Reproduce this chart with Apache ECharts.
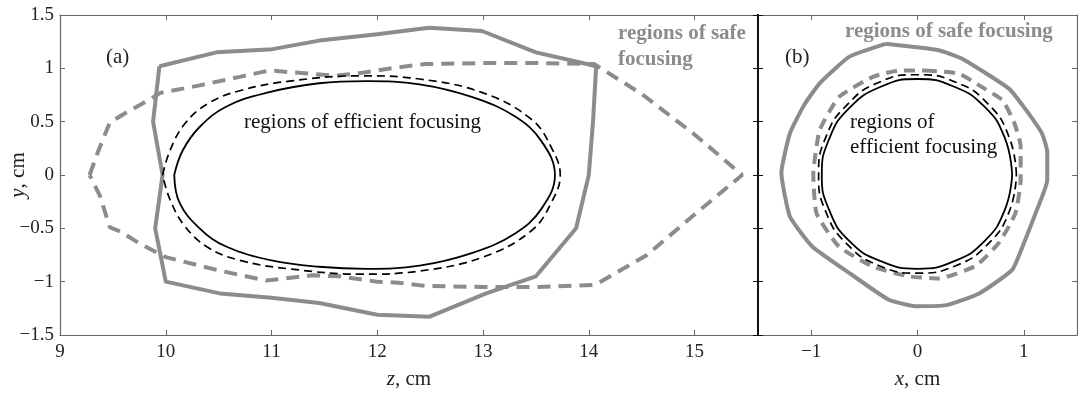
<!DOCTYPE html>
<html>
<head>
<meta charset="utf-8">
<script src="https://cdn.jsdelivr.net/npm/echarts@6/dist/echarts.min.js"></script>
<style>
html,body{margin:0;padding:0;background:#fff;}
#chart{width:1078px;height:401px;}
</style>
</head>
<body>
<div id="chart"></div>
<script>
// ---- tick values ----
const zTicks = [9, 10, 11, 12, 13, 14, 15];
const xTicks = [-1, 0, 1];
const yTicks = [-1.5, -1, -0.5, 0, 0.5, 1, 1.5];

// ---- panel (a): z-y plane ----
const safeSolidZ = [[9.94,1.02],[10.48,1.15],[11.01,1.18],[11.45,1.26],[12.0,1.32],[12.49,1.38],[12.99,1.35],[13.5,1.15],[13.9,1.06],[14.07,1.02],[14.04,0.5],[14.0,0],[13.88,-0.5],[13.5,-0.95],[13.03,-1.11],[12.49,-1.33],[12.0,-1.31],[11.45,-1.2],[11.0,-1.15],[10.51,-1.11],[10.0,-1.0],[9.9,-0.5],[9.97,0],[9.88,0.5],[9.94,1.02]];
const safeDashZ = [[9.28,0],[9.36,0.22],[9.47,0.49],[9.6,0.57],[9.78,0.67],[9.95,0.77],[10.32,0.84],[10.7,0.92],[10.98,0.98],[11.36,0.95],[11.6,0.93],[11.8,0.95],[12.0,0.98],[12.2,1.01],[12.45,1.04],[13.0,1.05],[13.5,1.05],[14.05,1.04],[14.5,0.76],[15.0,0.38],[15.45,0],[15.0,-0.37],[14.55,-0.75],[14.06,-1.03],[13.5,-1.05],[13.0,-1.05],[12.45,-1.04],[12.2,-1.01],[12.0,-1.0],[11.64,-0.95],[11.39,-0.94],[10.95,-0.99],[10.48,-0.89],[10.0,-0.77],[9.75,-0.64],[9.57,-0.53],[9.47,-0.49],[9.38,-0.2],[9.28,0]];
const effSolidZ = [[10.08,0],[10.16,0.23],[10.32,0.45],[10.57,0.64],[10.95,0.77],[11.45,0.86],[11.9,0.88],[12.4,0.85],[12.9,0.73],[13.3,0.55],[13.55,0.32],[13.68,0],[13.55,-0.32],[13.3,-0.55],[12.9,-0.73],[12.4,-0.85],[11.9,-0.88],[11.45,-0.86],[11.0,-0.8],[10.57,-0.67],[10.32,-0.5],[10.13,-0.26],[10.08,0]];
const effDashZ = [[9.97,0],[10.04,0.23],[10.18,0.48],[10.4,0.67],[10.7,0.79],[11.17,0.88],[11.85,0.93],[12.4,0.9],[13.0,0.77],[13.46,0.52],[13.65,0.25],[13.73,0],[13.65,-0.25],[13.46,-0.52],[13.0,-0.77],[12.4,-0.9],[11.85,-0.93],[11.17,-0.88],[10.7,-0.8],[10.4,-0.68],[10.18,-0.48],[10.04,-0.23],[9.97,0]];

// ---- panel (b): x-y plane ----
const safeSolidX = [[-0.30,1.23],[0.2,1.17],[0.42,1.09],[0.86,0.81],[1.02,0.61],[1.17,0.39],[1.22,0.22],[1.22,-0.05],[1.11,-0.36],[1.0,-0.64],[0.89,-0.89],[0.58,-1.11],[0.27,-1.22],[-0.02,-1.23],[-0.27,-1.17],[-0.64,-0.92],[-0.99,-0.67],[-1.2,-0.39],[-1.28,0.02],[-1.2,0.39],[-1.07,0.65],[-0.92,0.86],[-0.64,1.11],[-0.30,1.23]];
const safeDashX = [[0.08,0.98],[0.39,0.95],[0.58,0.84],[0.8,0.7],[0.91,0.49],[0.97,0.27],[0.97,-0.05],[0.92,-0.36],[0.77,-0.63],[0.55,-0.85],[0.2,-0.97],[-0.08,-0.95],[-0.42,-0.86],[-0.74,-0.67],[-0.95,-0.36],[-0.98,0.01],[-0.92,0.42],[-0.74,0.73],[-0.42,0.92],[-0.17,0.98],[0.08,0.98]];
const effSolidX = [[0.89,0],[0.82,0.35],[0.63,0.64],[0.34,0.83],[0,0.9],[-0.34,0.83],[-0.64,0.63],[-0.83,0.34],[-0.9,0],[-0.83,-0.33],[-0.64,-0.62],[-0.34,-0.81],[0,-0.88],[0.34,-0.81],[0.63,-0.62],[0.82,-0.33],[0.89,0]];
const effDashX = [[0.93,0],[0.86,0.36],[0.66,0.67],[0.36,0.87],[0,0.94],[-0.36,0.87],[-0.66,0.66],[-0.86,0.36],[-0.93,0],[-0.86,-0.35],[-0.66,-0.65],[-0.36,-0.85],[0,-0.92],[0.36,-0.85],[0.66,-0.65],[0.86,-0.35],[0.93,0]];

const SERIF = '"Liberation Serif", "DejaVu Serif", serif';
const GRAY = '#8c8c8c';
const FRAME = '#666';
const minus = v => String(v).replace('-', '\u2212');

function frameAxis(extra) {
  const base = {
    type: 'value',
    splitLine: { show: false },
    nameMoveOverlap: false,
    axisLine: { show: true, onZero: false, lineStyle: { color: FRAME, width: 1.2 } },
    axisTick: { show: true, inside: true, length: 5, lineStyle: { color: FRAME } },
    axisLabel: { show: false }
  };
  const out = Object.assign(base, extra);
  out.axisLine = Object.assign({ show: true, onZero: false }, out.axisLine, { onZero: false });
  return out;
}
const labelStyle = { show: true, fontFamily: SERIF, fontSize: 19, color: '#222', formatter: minus };
const nameStyle = { fontFamily: SERIF, fontSize: 21, color: '#222', rich: { i: { fontFamily: SERIF, fontSize: 21, fontStyle: 'italic', color: '#222' } } };

const chart = echarts.init(document.getElementById('chart'), null, { renderer: 'canvas' });
const option = {
  animation: false,
  backgroundColor: '#fff',
  grid: [
    { left: 60, top: 15, right: 320, bottom: 66, outerBoundsMode: 'none', containLabel: false },
    { left: 758, top: 15, right: 1, bottom: 66, outerBoundsMode: 'none', containLabel: false }
  ],
  xAxis: [
    frameAxis({ gridIndex: 0, position: 'bottom', min: 9, max: 15.6,
      axisTick: { show: true, inside: true, length: 5, customValues: zTicks, lineStyle: { color: FRAME } },
      axisLabel: Object.assign({}, labelStyle, { margin: 8, customValues: zTicks }),
      name: '{i|z}, cm', nameLocation: 'middle', nameGap: 34, nameTextStyle: nameStyle }),
    frameAxis({ gridIndex: 0, position: 'top', min: 9, max: 15.6,
      axisTick: { show: true, inside: true, length: 5, customValues: zTicks, lineStyle: { color: FRAME } } }),
    frameAxis({ gridIndex: 1, position: 'bottom', min: -1.5, max: 1.5,
      axisTick: { show: true, inside: true, length: 5, customValues: xTicks, lineStyle: { color: FRAME } },
      axisLabel: Object.assign({}, labelStyle, { margin: 8, customValues: xTicks }),
      name: '{i|x}, cm', nameLocation: 'middle', nameGap: 34, nameTextStyle: nameStyle }),
    frameAxis({ gridIndex: 1, position: 'top', min: -1.5, max: 1.5,
      axisTick: { show: true, inside: true, length: 5, customValues: xTicks, lineStyle: { color: FRAME } } })
  ],
  yAxis: [
    frameAxis({ gridIndex: 0, position: 'left', min: -1.5, max: 1.5, interval: 0.5,
      axisTick: { show: true, inside: true, length: 5, customValues: yTicks, lineStyle: { color: FRAME } },
      axisLabel: Object.assign({}, labelStyle, { margin: 6, customValues: yTicks }),
      name: '{i|y}, cm', nameLocation: 'middle', nameGap: 31, nameTextStyle: nameStyle }),
    frameAxis({ gridIndex: 0, position: 'right', min: -1.5, max: 1.5, interval: 0.5,
      axisLine: { show: true, lineStyle: { color: '#111', width: 2 } },
      axisTick: { show: true, inside: true, length: 5, lineStyle: { color: '#111' } } }),
    frameAxis({ gridIndex: 1, position: 'left', min: -1.5, max: 1.5, interval: 0.5,
      axisLine: { show: true, lineStyle: { color: '#111', width: 2 } },
      axisTick: { show: true, inside: true, length: 5, lineStyle: { color: '#111' } } }),
    frameAxis({ gridIndex: 1, position: 'right', min: -1.5, max: 1.5, interval: 0.5 })
  ],
  series: [
    { type: 'line', xAxisIndex: 0, yAxisIndex: 0, data: safeSolidZ, symbol: 'none', smooth: false,
      lineStyle: { color: GRAY, width: 4, join: 'round' } },
    { type: 'line', xAxisIndex: 0, yAxisIndex: 0, data: safeDashZ, symbol: 'none', smooth: false,
      lineStyle: { color: GRAY, width: 4, type: [13, 8] } },
    { type: 'line', xAxisIndex: 0, yAxisIndex: 0, data: effSolidZ, symbol: 'none', smooth: 0.4,
      lineStyle: { color: '#000', width: 1.8 } },
    { type: 'line', xAxisIndex: 0, yAxisIndex: 0, data: effDashZ, symbol: 'none', smooth: 0.4,
      lineStyle: { color: '#000', width: 1.7, type: [8, 5] } },
    { type: 'line', xAxisIndex: 2, yAxisIndex: 2, data: safeSolidX, symbol: 'none', smooth: 0.15,
      lineStyle: { color: GRAY, width: 4, join: 'round' } },
    { type: 'line', xAxisIndex: 2, yAxisIndex: 2, data: safeDashX, symbol: 'none', smooth: 0.15,
      lineStyle: { color: GRAY, width: 4, type: [11, 7] } },
    { type: 'line', xAxisIndex: 2, yAxisIndex: 2, data: effSolidX, symbol: 'none', smooth: 0.5,
      lineStyle: { color: '#000', width: 1.8 } },
    { type: 'line', xAxisIndex: 2, yAxisIndex: 2, data: effDashX, symbol: 'none', smooth: 0.5,
      lineStyle: { color: '#000', width: 1.7, type: [8, 5] } }
  ],
  graphic: [
    { type: 'text', style: { x: 106, y: 57, text: '(a)', font: '21px ' + SERIF, fill: '#222', verticalAlign: 'middle' } },
    { type: 'text', style: { x: 244, y: 122, text: 'regions of efficient focusing', font: '21px ' + SERIF, fill: '#111', verticalAlign: 'middle' } },
    { type: 'text', style: { x: 618, y: 21, text: 'regions of safe\nfocusing', font: 'bold 21px ' + SERIF, fill: GRAY, lineHeight: 26, verticalAlign: 'top' } },
    { type: 'text', style: { x: 785, y: 57, text: '(b)', font: '21px ' + SERIF, fill: '#222', verticalAlign: 'middle' } },
    { type: 'text', style: { x: 845, y: 32, text: 'regions of safe focusing', font: 'bold 21px ' + SERIF, fill: GRAY, verticalAlign: 'middle' } },
    { type: 'text', style: { x: 850, y: 109.5, text: 'regions of\nefficient focusing', font: '21px ' + SERIF, fill: '#111', lineHeight: 25, verticalAlign: 'top' } }
  ]
};
chart.setOption(option);
</script>
</body>
</html>
